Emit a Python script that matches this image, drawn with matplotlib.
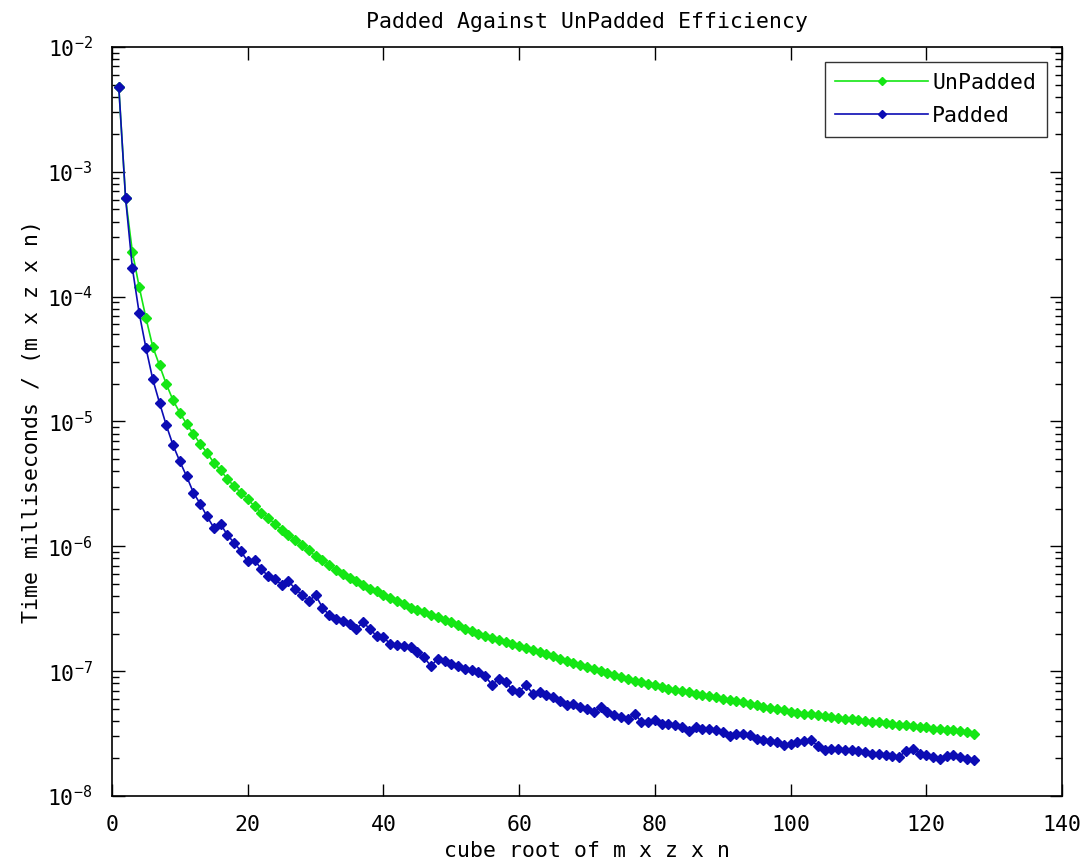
import numpy as np
import matplotlib
matplotlib.use("Agg")
import matplotlib.pyplot as plt
from matplotlib.ticker import LogLocator, LogFormatterSciNotation, MultipleLocator

# x values: cube root of m*z*n
x_vals = list(range(1, 128))

# log10 of time per element
unpadded_log10 = [
    -2.32, -3.21, -3.64, -3.92, -4.17, -4.40, -4.55, -4.70, -4.83, -4.93,
    -5.02, -5.10, -5.18, -5.25, -5.33, -5.39, -5.46, -5.52, -5.57, -5.62,
    -5.68, -5.73, -5.77, -5.82, -5.87, -5.91, -5.95, -5.99, -6.03, -6.08,
    -6.11, -6.15, -6.19, -6.22, -6.25, -6.28, -6.31, -6.34, -6.36, -6.39,
    -6.41, -6.44, -6.46, -6.49, -6.51, -6.53, -6.55, -6.57, -6.59, -6.61,
    -6.63, -6.66, -6.68, -6.70, -6.72, -6.735, -6.75, -6.77, -6.785, -6.80,
    -6.815, -6.83, -6.85, -6.865, -6.88, -6.90, -6.92, -6.935, -6.95, -6.965,
    -6.98, -7.00, -7.015, -7.03, -7.045, -7.06, -7.075, -7.09, -7.10, -7.11,
    -7.125, -7.14, -7.15, -7.16, -7.17, -7.18, -7.19, -7.20, -7.21, -7.22,
    -7.23, -7.24, -7.25, -7.26, -7.27, -7.285, -7.295, -7.305, -7.315, -7.325,
    -7.335, -7.34, -7.345, -7.35, -7.36, -7.37, -7.375, -7.38, -7.385, -7.39,
    -7.40, -7.405, -7.41, -7.415, -7.42, -7.43, -7.435, -7.44, -7.445, -7.45,
    -7.46, -7.465, -7.47, -7.475, -7.48, -7.49, -7.50,
]

padded_log10 = [
    -2.32, -3.21, -3.77, -4.13, -4.41, -4.66, -4.85, -5.03, -5.19, -5.32,
    -5.44, -5.57, -5.66, -5.76, -5.85, -5.82, -5.91, -5.97, -6.04, -6.12,
    -6.11, -6.18, -6.24, -6.26, -6.31, -6.28, -6.34, -6.39, -6.44, -6.39,
    -6.49, -6.55, -6.58, -6.60, -6.62, -6.66, -6.61, -6.66, -6.72, -6.73,
    -6.78, -6.79, -6.80, -6.81, -6.85, -6.89, -6.96, -6.90, -6.92, -6.94,
    -6.96, -6.98, -6.99, -7.01, -7.04, -7.11, -7.06, -7.085, -7.15, -7.165,
    -7.11, -7.18, -7.17, -7.19, -7.21, -7.24, -7.27, -7.26, -7.285, -7.30,
    -7.325, -7.285, -7.33, -7.35, -7.365, -7.38, -7.34, -7.405, -7.41, -7.39,
    -7.42, -7.42, -7.43, -7.445, -7.48, -7.445, -7.46, -7.465, -7.47, -7.49,
    -7.52, -7.50, -7.50, -7.51, -7.54, -7.55, -7.56, -7.57, -7.59, -7.58,
    -7.565, -7.56, -7.55, -7.60, -7.63, -7.62, -7.62, -7.63, -7.63, -7.64,
    -7.645, -7.66, -7.665, -7.67, -7.68, -7.685, -7.64, -7.62, -7.66, -7.67,
    -7.685, -7.70, -7.68, -7.67, -7.69, -7.70, -7.71,
]

series_names = ["UnPadded", "Padded"]
title_text = "Padded Against UnPadded Efficiency"
xlabel_text = "cube root of m x z x n"
ylabel_text = "Time milliseconds / (m x z x n)"

plt.rcParams["font.family"] = ["DejaVu Sans Mono", "DejaVu Sans"]
plt.rcParams["mathtext.fontset"] = "custom"
plt.rcParams["mathtext.rm"] = "DejaVu Sans Mono"
plt.rcParams["mathtext.it"] = "DejaVu Sans Mono"
plt.rcParams["mathtext.bf"] = "DejaVu Sans Mono"

FS = 15.5

fig = plt.figure(figsize=(10.84, 8.64), dpi=100)
ax = fig.add_axes([112 / 1084, 1 - 796 / 864, (1062 - 112) / 1084, (796 - 47) / 864])

x = np.array(x_vals)
unpadded = np.power(10.0, np.array(unpadded_log10))
padded = np.power(10.0, np.array(padded_log10))

ax.plot(x, unpadded, color="#14e614", marker="D", markersize=5.0, linewidth=1.2,
        label=series_names[0])
ax.plot(x, padded, color="#0c0cb4", marker="D", markersize=5.0, linewidth=1.2,
        label=series_names[1])

ax.set_yscale("log")
ax.set_xlim(0, 140)
ax.set_ylim(1e-8, 1e-2)
ax.xaxis.set_major_locator(MultipleLocator(20))
ax.yaxis.set_major_locator(LogLocator(base=10, numticks=10))
ax.yaxis.set_minor_locator(LogLocator(base=10, subs=np.arange(2, 10), numticks=100))
ax.yaxis.set_major_formatter(LogFormatterSciNotation())

ax.tick_params(which="both", direction="in", top=True, right=True, labelsize=FS, width=1)
ax.tick_params(which="major", length=9)
ax.tick_params(which="minor", length=5)
ax.tick_params(axis="x", pad=14)
ax.tick_params(axis="y", pad=14)
for s in ax.spines.values():
    s.set_linewidth(1.2)

ax.set_title(title_text, fontsize=FS, pad=14)
ax.set_xlabel(xlabel_text, fontsize=FS, labelpad=4)
ax.set_ylabel(ylabel_text, fontsize=FS, labelpad=4)

leg = ax.legend(loc="upper right", fontsize=FS, handlelength=4.3, frameon=True,
                fancybox=False, edgecolor="black", borderaxespad=0.7,
                handletextpad=0.2, borderpad=0.5, labelspacing=0.6,
                markerscale=0.8)
leg.get_frame().set_linewidth(1.0)

fig.savefig("out.png", dpi=100)
